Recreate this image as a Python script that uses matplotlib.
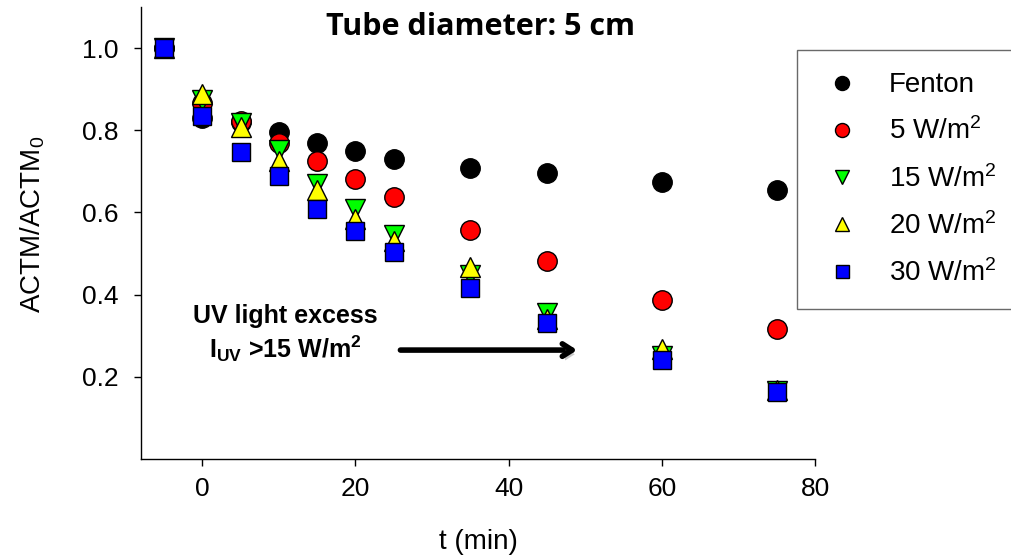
import matplotlib
matplotlib.use("Agg")
import matplotlib.pyplot as plt
import matplotlib.patheffects as pe

plt.rcParams['font.family'] = ['Liberation Sans', 'DejaVu Sans']
plt.rcParams['mathtext.fontset'] = 'custom'
plt.rcParams['mathtext.rm'] = 'Liberation Sans'
plt.rcParams['mathtext.bf'] = 'Liberation Sans:bold'
plt.rcParams['mathtext.it'] = 'Liberation Sans:italic'

# time points (min)
t = [-5, 0, 5, 10, 15, 20, 25, 35, 45, 60, 75]

# ACTM/ACTM0
fenton = [1.0, 0.83, 0.82, 0.795, 0.770, 0.750, 0.730, 0.707, 0.696, 0.675, 0.655]
w5 = [1.0, 0.867, 0.822, 0.769, 0.724, 0.682, 0.637, 0.558, 0.482, 0.387, 0.316]
w15 = [1.0, 0.874, 0.818, 0.752, 0.670, 0.609, 0.546, 0.448, 0.356, 0.250, 0.165]
w20 = [1.0, 0.888, 0.808, 0.726, 0.655, 0.585, 0.530, 0.467, 0.340, 0.268, 0.168]
w30 = [1.0, 0.835, 0.746, 0.688, 0.609, 0.554, 0.504, 0.415, 0.332, 0.241, 0.164]

labels = ['Fenton', '5 W/m$^2$', '15 W/m$^2$', '20 W/m$^2$', '30 W/m$^2$']
colors = ['black', 'red', '#00ff00', 'yellow', 'blue']
markers = ['o', 'o', 'v', '^', 's']
sizes = [14, 14, 14, 14, 13]
series = [fenton, w5, w15, w20, w30]

fig = plt.figure(figsize=(10.11, 5.57), dpi=100)
ax = fig.add_axes([0.1395, 0.176, 0.6667, 0.8115])

for y, lab, c, m, s in zip(series, labels, colors, markers, sizes):
    ax.plot(t, y, linestyle='none', marker=m, markersize=s, markerfacecolor=c,
            markeredgecolor='black', markeredgewidth=1.0, label=lab)

ax.set_xlim(-8, 80)
ax.set_ylim(0, 1.1)
ax.set_xticks([0, 20, 40, 60, 80])
ax.set_yticks([0.2, 0.4, 0.6, 0.8, 1.0])
ax.tick_params(direction='out', length=5, width=1, labelsize=19)
ax.tick_params(axis='y', pad=11)
ax.tick_params(axis='x', pad=8)
for sp in ['top', 'right']:
    ax.spines[sp].set_visible(False)
for sp in ['left', 'bottom']:
    ax.spines[sp].set_linewidth(1)

ax.set_xlabel('t (min)', fontsize=20)
ax.xaxis.set_label_coords(0.5, -0.155)
ax.set_ylabel('ACTM/ACTM$_0$', fontsize=20)
ax.yaxis.set_label_coords(-0.139, 0.52)

fig.text(0.475, 0.952, 'Tube diameter: 5 cm', fontsize=22, fontweight='bold',
         family=['Open Sans', 'DejaVu Sans'], ha='center', va='center')

ax.text(10.8, 0.331, 'UV light excess', fontsize=18, fontweight='bold',
        ha='center', va='baseline')
ax.text(10.8, 0.246, r'$\mathbf{I_{UV}}$ >15 W/m$^\mathbf{2}$', fontsize=18,
        fontweight='bold', ha='center', va='baseline')
ax.annotate('', xy=(49.3, 0.265), xytext=(25.5, 0.265),
            arrowprops=dict(arrowstyle='->,head_length=0.7,head_width=0.45',
                            lw=4, color='black',
                            path_effects=[pe.withSimplePatchShadow(offset=(2, -3), alpha=0.3)]))

leg = ax.legend(loc='upper left', bbox_to_anchor=(797 / 1011, 1 - 50 / 557),
                bbox_transform=fig.transFigure, fontsize=20, markerscale=0.72,
                frameon=True, fancybox=False, borderaxespad=0, borderpad=0.8,
                labelspacing=0.7, handletextpad=0.85, handlelength=1.65)
leg.get_frame().set_edgecolor('#444444')
leg.get_frame().set_linewidth(1)

fig.savefig('out.png', dpi=100)
